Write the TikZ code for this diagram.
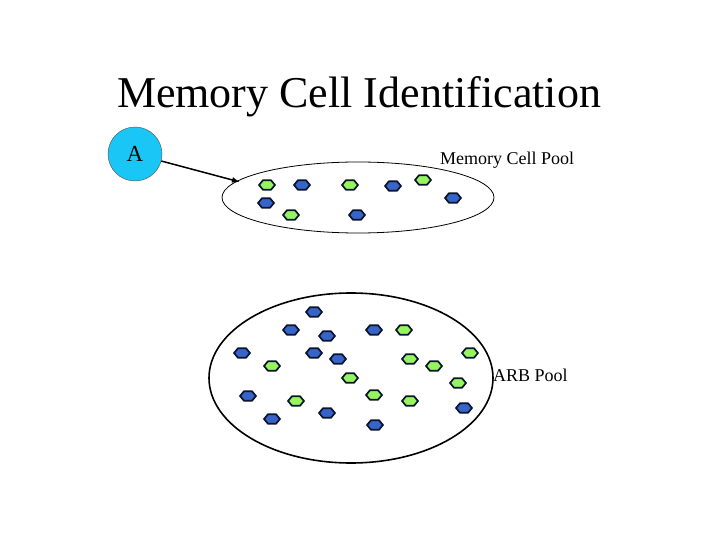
\documentclass[tikz,border=0pt]{standalone}
\usepackage{fontspec}
\setmainfont{Liberation Serif}
\usetikzlibrary{arrows.meta,shapes.geometric}

\definecolor{antigen}{RGB}{25,198,245}
\definecolor{cellgreen}{RGB}{150,245,95}
\definecolor{cellblue}{RGB}{55,100,200}
\definecolor{celledge}{RGB}{10,20,45}

\begin{document}
\begin{tikzpicture}[
  x=1pt, y=-1pt,
  >={Latex[length=8pt,width=6pt]},
  cell/.style ={regular polygon, regular polygon sides=6, minimum size=16pt,
                inner sep=0pt, yscale=.68, draw=celledge, line width=1.7pt},
  cellg/.style={cell, fill=cellgreen},
  cellb/.style={cell, fill=cellblue},
  pool/.style ={ellipse, draw=black, inner sep=0pt},
  lbl/.style  ={font=\fontsize{18}{20}\selectfont, anchor=base west, inner sep=0pt},
  flow/.style ={->, line width=1.5pt},
]
\useasboundingbox (0,0) rectangle (720,540);

% ---------- Title ----------
\node[font=\fontsize{44}{50}\selectfont, anchor=base, inner sep=0pt]
  (title) at (359,108) {Memory Cell Identification};

% ---------- Antigen ----------
\node[circle, draw=black!70, fill=antigen, minimum size=54pt, inner sep=0pt,
      font=\fontsize{23}{24}\selectfont] (ag) at (135,154) {A};

% ---------- Memory cell pool ----------
\node[pool, minimum width=272pt, minimum height=71pt, line width=.8pt] (mcpool) at (358,197.5) {};
\node[lbl] (mclbl) at (440,165) {Memory Cell Pool};
\foreach \x/\y/\c [count=\i] in {267/185/g, 302/185/b, 350/185/g, 393/186/b, 423/180/g,
                                 453/198/b, 266/203/b, 291/215/g, 357/215/b}
  \node[cell\c] (mc\i) at (\x,\y) {};

\coordinate (mcin) at (240,182);
\draw[flow] (ag) -- (mcin);

% ---------- ARB pool ----------
\node[pool, minimum width=284pt, minimum height=170pt, line width=1.6pt] (arbpool) at (351,378) {};
\node[lbl] (arblbl) at (493,381) {ARB Pool};
\foreach \x/\y/\c [count=\i] in {314/312/b, 291/330/b, 327/336/b, 374/330/b, 404/330/g,
                                 242/353/b, 314/353/b, 338/359/b, 272/366/g, 410/359/g,
                                 434/366/g, 470/353/g, 350/378/g, 458/383/g, 248/396/b,
                                 296/401/g, 374/395/g, 410/401/g, 327/413/b, 464/408/b,
                                 272/419/b, 375/425/b}
  \node[cell\c] (arb\i) at (\x,\y) {};

\end{tikzpicture}
\end{document}
